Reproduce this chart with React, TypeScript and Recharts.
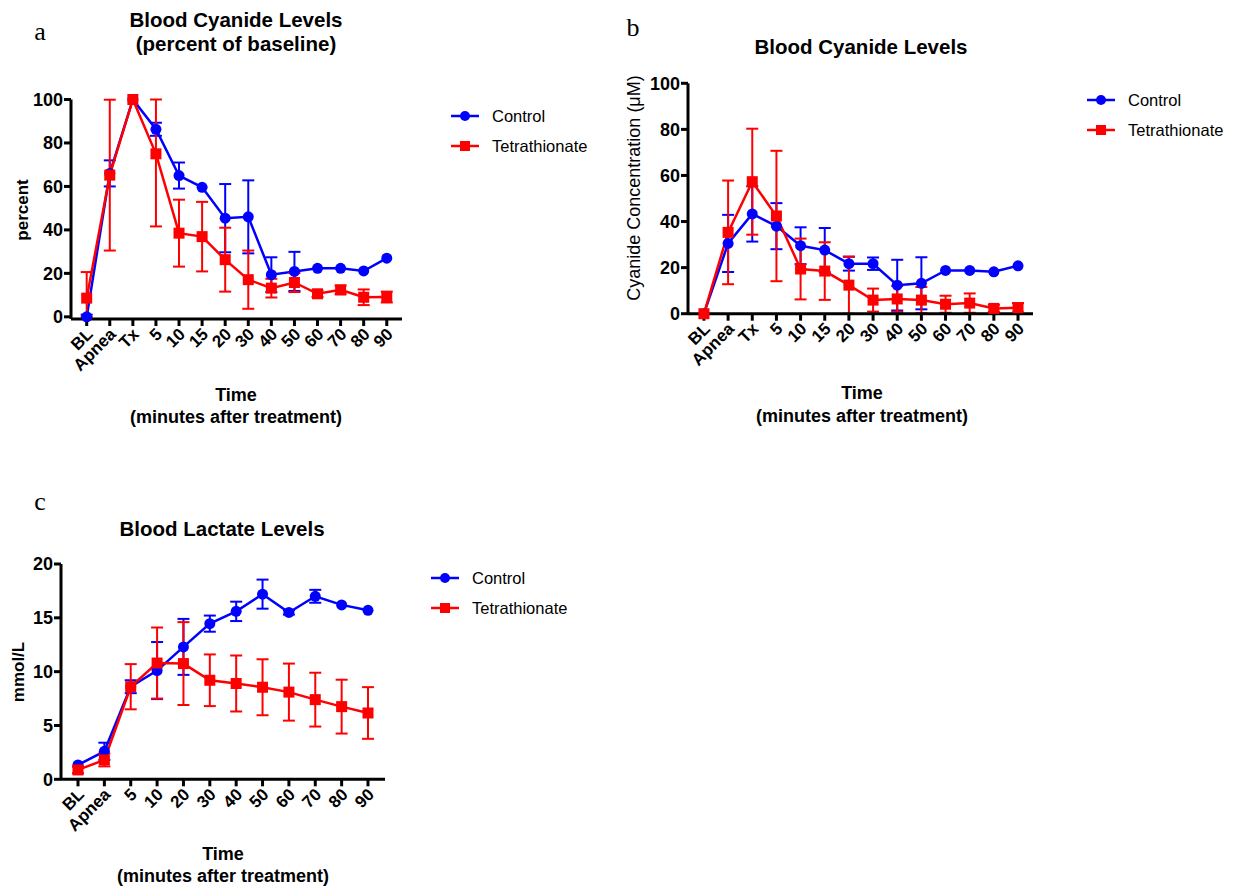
import React from 'react';
import { LineChart, Line, XAxis, YAxis, ErrorBar, Legend } from 'recharts';

const cyanideCats = ['BL', 'Apnea', 'Tx', '5', '10', '15', '20', '30', '40', '50', '60', '70', '80', '90'];
const lactateCats = ['BL', 'Apnea', '5', '10', '20', '30', '40', '50', '60', '70', '80', '90'];

// Panel a: percent of baseline
const pctControl = [0, 66, 100, 86.3, 65, 59.6, 45.4, 46, 19.4, 20.9, 22.3, 22.3, 21.1, 27];
const pctControlErr: any[] = [1, 6, 0, 3, 6, 0, 15.7, 16.8, 8, 9, 0, 0, 0, 0];
const pctTet = [8.6, 65.2, 100, 75, 38.5, 36.9, 26.3, 17.1, 13.2, 15.8, 10.6, 12.4, 9, 9.1];
const pctTetErr: any[] = [[8.6, 12], 34.7, 0, [33.4, 25], 15.4, 16, 14.7, 13.4, 4.3, 4.4, 1.5, 2, 3.6, 2.5];

// Panel b: cyanide concentration (uM)
const cnControl = [0, 30.5, 43.3, 38, 29.5, 27.6, 21.7, 21.7, 12.4, 13.2, 18.8, 18.8, 18.2, 20.8];
const cnControlErr: any[] = [0, 12.4, 12, 10, 8, 9.6, 3, 2.7, 11, 11.3, 0, 0, 0, 0];
const cnTet = [0, 35.3, 57.3, 42.4, 19.4, 18.5, 12.4, 5.9, 6.4, 5.9, 4.1, 4.6, 2.3, 2.6];
const cnTetErr: any[] = [0, 22.5, 23, 28.3, 13.2, 12.5, 12.4, 5, 5.6, 5.7, 3.7, 4.2, 1.5, 2];

// Panel c: lactate (mmol/L)
const lacControl = [1.33, 2.6, 8.6, 10.1, 12.3, 14.46, 15.6, 17.2, 15.5, 17.0, 16.2, 15.7];
const lacControlErr: any[] = [0, 0.8, 0.6, 2.65, 2.6, 0.75, 0.9, 1.35, 0.2, 0.6, 0, 0];
const lacTet = [0.87, 1.8, 8.6, 10.8, 10.75, 9.2, 8.9, 8.55, 8.1, 7.4, 6.75, 6.16];
const lacTetErr: any[] = [0.3, 0.6, 2.1, 3.3, 3.85, 2.4, 2.6, 2.6, 2.65, 2.5, 2.5, 2.4];

const pctTicks = [0, 20, 40, 60, 80, 100];
const cnTicks = [0, 20, 40, 60, 80, 100];
const lacTicks = [0, 5, 10, 15, 20];

const BLUE = '#0000FF';
const RED = '#FF0000';
const SANS = '"Liberation Sans", Arial, sans-serif';
const SERIF = '"Liberation Serif", "Times New Roman", serif';

function buildRows(cats: string[], c: number[], ce: any[], t: number[], te: any[]) {
  return cats.map((label, i) => ({ idx: i, label, ctrl: c[i], ctrlErr: ce[i], tet: t[i], tetErr: te[i] }));
}

const CatTick = (props: any) => {
  const { x, y, payload, cats } = props;
  const label = cats[payload.value] ?? '';
  const ax = x + 3;
  const ay = y + 3;
  return (
    <text
      x={ax}
      y={ay}
      dy="0.35em"
      textAnchor="end"
      transform={`rotate(-45, ${ax}, ${ay})`}
      fontFamily={SANS}
      fontWeight="bold"
      fontSize={17}
      fill="#000"
    >
      {label}
    </text>
  );
};

const circleDot = (p: any) => {
  if (p.cx == null || p.cy == null) return <g key={`c${p.index}`} />;
  return <circle key={`c${p.index}`} cx={p.cx} cy={p.cy} r={5.5} fill={BLUE} stroke="none" />;
};
const squareDot = (p: any) => {
  if (p.cx == null || p.cy == null) return <g key={`s${p.index}`} />;
  return <rect key={`s${p.index}`} x={p.cx - 5.5} y={p.cy - 5.5} width={11} height={11} fill={RED} stroke="none" />;
};

const LegendContent = (props: any) => {
  const payload = props.payload || [];
  return (
    <div style={{ fontFamily: SANS, fontSize: 16.5, color: '#000' }}>
      {payload.map((e: any, i: number) => (
        <div key={i} style={{ display: 'flex', alignItems: 'center', height: 30 }}>
          <svg width={30} height={14} style={{ display: 'block' }}>
            <line x1={1} y1={7} x2={29} y2={7} stroke={e.color} strokeWidth={2.5} />
            {e.dataKey === 'ctrl' ? (
              <circle cx={15} cy={7} r={5} fill={e.color} />
            ) : (
              <rect x={10} y={2} width={10} height={10} fill={e.color} />
            )}
          </svg>
          <span style={{ marginLeft: 12, whiteSpace: 'nowrap' }}>{e.value}</span>
        </div>
      ))}
    </div>
  );
};

type PanelProps = {
  left: number;
  top: number;
  width: number;
  height: number;
  margin: { top: number; right: number; bottom: number; left: number };
  yWidth: number;
  xDomain: [number, number];
  yDomain: [number, number];
  yTicks: number[];
  cats: string[];
  rows: any[];
  legendPos: { left: number; top: number };
};

function Panel(p: PanelProps) {
  const axisLine = { stroke: '#000', strokeWidth: 3 };
  return (
    <div style={{ position: 'absolute', left: p.left, top: p.top }}>
      <LineChart width={p.width} height={p.height} data={p.rows} margin={p.margin}>
        <XAxis
          type="number"
          dataKey="idx"
          domain={p.xDomain}
          ticks={p.cats.map((_, i) => i)}
          interval={0}
          allowDataOverflow
          height={60}
          axisLine={axisLine}
          tickLine={axisLine}
          tickSize={7}
          tick={<CatTick cats={p.cats} />}
        />
        <YAxis
          type="number"
          domain={p.yDomain}
          ticks={p.yTicks}
          interval={0}
          width={p.yWidth}
          axisLine={axisLine}
          tickLine={axisLine}
          tickSize={7}
          tickMargin={1}
          tick={{ fontFamily: SANS, fontWeight: 'bold', fontSize: 18, fill: '#000' }}
        />
        <Legend
          layout="vertical"
          align="center"
          verticalAlign="middle"
          wrapperStyle={{ left: p.legendPos.left, top: p.legendPos.top, width: 'auto' }}
          content={<LegendContent />}
        />
        <Line
          type="linear"
          dataKey="ctrl"
          name="Control"
          stroke={BLUE}
          strokeWidth={2.5}
          dot={circleDot}
          activeDot={false}
          isAnimationActive={false}
        >
          <ErrorBar dataKey="ctrlErr" direction="y" width={6} strokeWidth={2} stroke={BLUE} isAnimationActive={false} />
        </Line>
        <Line
          type="linear"
          dataKey="tet"
          name="Tetrathionate"
          stroke={RED}
          strokeWidth={2.5}
          dot={squareDot}
          activeDot={false}
          isAnimationActive={false}
        >
          <ErrorBar dataKey="tetErr" direction="y" width={6} strokeWidth={2} stroke={RED} isAnimationActive={false} />
        </Line>
      </LineChart>
    </div>
  );
}

const abs = (x: number, y: number, extra: React.CSSProperties = {}): React.CSSProperties => ({
  position: 'absolute',
  left: x,
  top: y,
  transform: 'translate(-50%, -50%)',
  whiteSpace: 'nowrap',
  fontFamily: SANS,
  color: '#000',
  lineHeight: 1,
  ...extra,
});

export default function App() {
  const rowsA = buildRows(cyanideCats, pctControl, pctControlErr, pctTet, pctTetErr);
  const rowsB = buildRows(cyanideCats, cnControl, cnControlErr, cnTet, cnTetErr);
  const rowsC = buildRows(lactateCats, lacControl, lacControlErr, lacTet, lacTetErr);

  return (
    <div style={{ position: 'absolute', left: 0, top: 0, width: 1246, height: 886, background: '#fff', overflow: 'hidden' }}>
      {/* Panel a */}
      <Panel
        left={0}
        top={0}
        width={600}
        height={440}
        margin={{ top: 99.5, right: 198, bottom: 61, left: 0 }}
        yWidth={71}
        xDomain={[-0.68, 13.66]}
        yDomain={[0, 100]}
        yTicks={pctTicks}
        cats={cyanideCats}
        rows={rowsA}
        legendPos={{ left: 450, top: 101 }}
      />
      {/* Panel b */}
      <Panel
        left={600}
        top={0}
        width={646}
        height={440}
        margin={{ top: 83.3, right: 213, bottom: 66.3, left: 0 }}
        yWidth={88}
        xDomain={[-0.66, 13.62]}
        yDomain={[0, 100]}
        yTicks={cnTicks}
        cats={cyanideCats}
        rows={rowsB}
        legendPos={{ left: 486, top: 85 }}
      />
      {/* Panel c */}
      <Panel
        left={0}
        top={480}
        width={600}
        height={406}
        margin={{ top: 84, right: 215, bottom: 46.7, left: 0 }}
        yWidth={61}
        xDomain={[-0.645, 11.645]}
        yDomain={[0, 20]}
        yTicks={lacTicks}
        cats={lactateCats}
        rows={rowsC}
        legendPos={{ left: 430, top: 83 }}
      />

      {/* Panel letters */}
      <div style={abs(40, 32, { fontFamily: SERIF, fontSize: 26 })}>a</div>
      <div style={abs(633, 28, { fontFamily: SERIF, fontSize: 26 })}>b</div>
      <div style={abs(40, 502, { fontFamily: SERIF, fontSize: 26 })}>c</div>

      {/* Titles */}
      <div style={abs(236, 20, { fontWeight: 'bold', fontSize: 20.5 })}>Blood Cyanide Levels</div>
      <div style={abs(236, 44, { fontWeight: 'bold', fontSize: 20.5 })}>(percent of baseline)</div>
      <div style={abs(861, 47, { fontWeight: 'bold', fontSize: 20.5 })}>Blood Cyanide Levels</div>
      <div style={abs(222, 529, { fontWeight: 'bold', fontSize: 20.5 })}>Blood Lactate Levels</div>

      {/* Y axis titles */}
      <div style={abs(22, 210, { fontWeight: 'bold', fontSize: 17, transform: 'translate(-50%, -50%) rotate(-90deg)' })}>percent</div>
      <div style={abs(634, 188, { fontSize: 18, transform: 'translate(-50%, -50%) rotate(-90deg)' })}>Cyanide Concentration (μM)</div>
      <div style={abs(18, 672, { fontWeight: 'bold', fontSize: 17, transform: 'translate(-50%, -50%) rotate(-90deg)' })}>mmol/L</div>

      {/* X axis titles */}
      <div style={abs(236, 395, { fontWeight: 'bold', fontSize: 18 })}>Time</div>
      <div style={abs(236, 417, { fontWeight: 'bold', fontSize: 18 })}>(minutes after treatment)</div>
      <div style={abs(862, 393, { fontWeight: 'bold', fontSize: 18 })}>Time</div>
      <div style={abs(862, 416, { fontWeight: 'bold', fontSize: 18 })}>(minutes after treatment)</div>
      <div style={abs(223, 854, { fontWeight: 'bold', fontSize: 18 })}>Time</div>
      <div style={abs(223, 876, { fontWeight: 'bold', fontSize: 18 })}>(minutes after treatment)</div>
    </div>
  );
}
